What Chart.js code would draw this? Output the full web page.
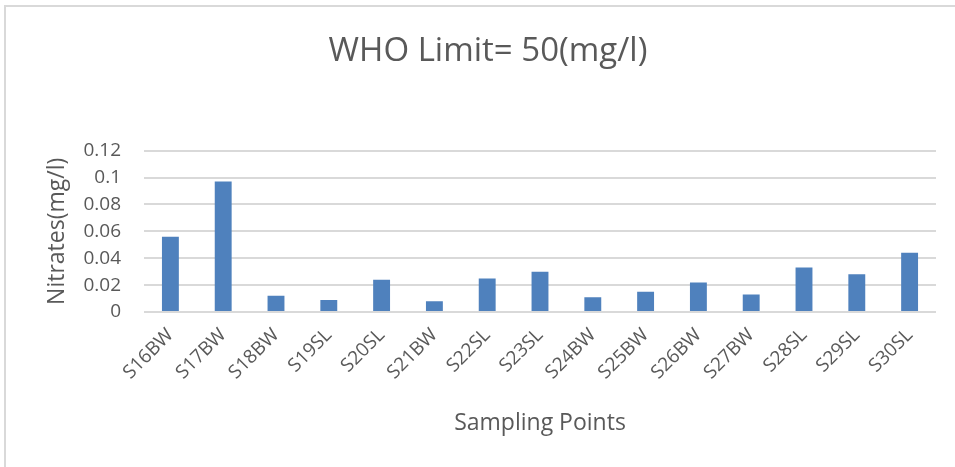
<!DOCTYPE html>
<html>
<head>
<meta charset="utf-8">
<script src="https://cdn.jsdelivr.net/npm/chart.js@4"></script>
<style>
  html, body { margin: 0; padding: 0; background: #fff; }
  #wrap { position: relative; width: 955px; height: 467px; overflow: hidden; }
  #frame { position: absolute; left: 4px; top: 5px; width: 1000px; height: 1000px;
           border-left: 2px solid #d9d9d9; border-top: 2px solid #d9d9d9; }
  canvas { position: absolute; left: 0; top: 0; }
</style>
</head>
<body>
<div id="wrap">
  <div id="frame"></div>
  <canvas id="nitrateChart" width="955" height="467"></canvas>
</div>
<script>
const samplingPoints = ['S16BW', 'S17BW', 'S18BW', 'S19SL', 'S20SL', 'S21BW', 'S22SL', 'S23SL',
                        'S24BW', 'S25BW', 'S26BW', 'S27BW', 'S28SL', 'S29SL', 'S30SL'];
const nitrates = [0.056, 0.097, 0.012, 0.009, 0.024, 0.008, 0.025, 0.030,
                  0.011, 0.015, 0.022, 0.013, 0.033, 0.028, 0.044];
const yTicks = [0, 0.02, 0.04, 0.06, 0.08, 0.1, 0.12];

const textColor = '#595959';
const font = '"Open Sans", "Liberation Sans", sans-serif';

document.addEventListener("DOMContentLoaded", () => {
    const ctx = document.getElementById('nitrateChart').getContext('2d');
    new Chart(ctx, {
        type: 'bar',
        data: {
            labels: samplingPoints,
            datasets: [{
                label: 'Nitrates',
                data: nitrates,
                backgroundColor: '#4f81bd',
                borderWidth: 0,
                barPercentage: 0.32,
                categoryPercentage: 1
            }]
        },
        options: {
            responsive: false,
            animation: false,
            layout: { padding: { left: 40, right: 19, top: 0, bottom: 26 } },
            plugins: {
                legend: { display: false },
                tooltip: { enabled: false },
                title: {
                    display: true,
                    text: 'WHO Limit= 50(mg/l)',
                    color: textColor,
                    font: { family: font, size: 33, weight: 'normal' },
                    padding: { top: 32, bottom: 79 }
                }
            },
            scales: {
                x: {
                    grid: { display: false },
                    border: { display: false },
                    ticks: {
                        color: textColor,
                        font: { family: font, size: 19 },
                        minRotation: 45,
                        maxRotation: 45,
                        padding: 4
                    },
                    title: {
                        display: true,
                        text: 'Sampling Points',
                        color: textColor,
                        font: { family: font, size: 23 }
                    },
                    afterFit: (scale) => { scale.height = 129; }
                },
                y: {
                    min: 0,
                    max: 0.12,
                    afterBuildTicks: (scale) => { scale.ticks = yTicks.map(v => ({ value: v })); },
                    grid: { color: '#d9d9d9', lineWidth: 2, drawTicks: false },
                    border: { display: false },
                    ticks: {
                        color: textColor,
                        font: { family: font, size: 19 },
                        padding: 23,
                        callback: (v) => String(Math.round(v * 100) / 100)
                    },
                    title: {
                        display: true,
                        text: 'Nitrates(mg/l)',
                        color: textColor,
                        font: { family: font, size: 23 }
                    },
                    afterFit: (scale) => { scale.width = 104; }
                }
            }
        }
    });
});
</script>
</body>
</html>
